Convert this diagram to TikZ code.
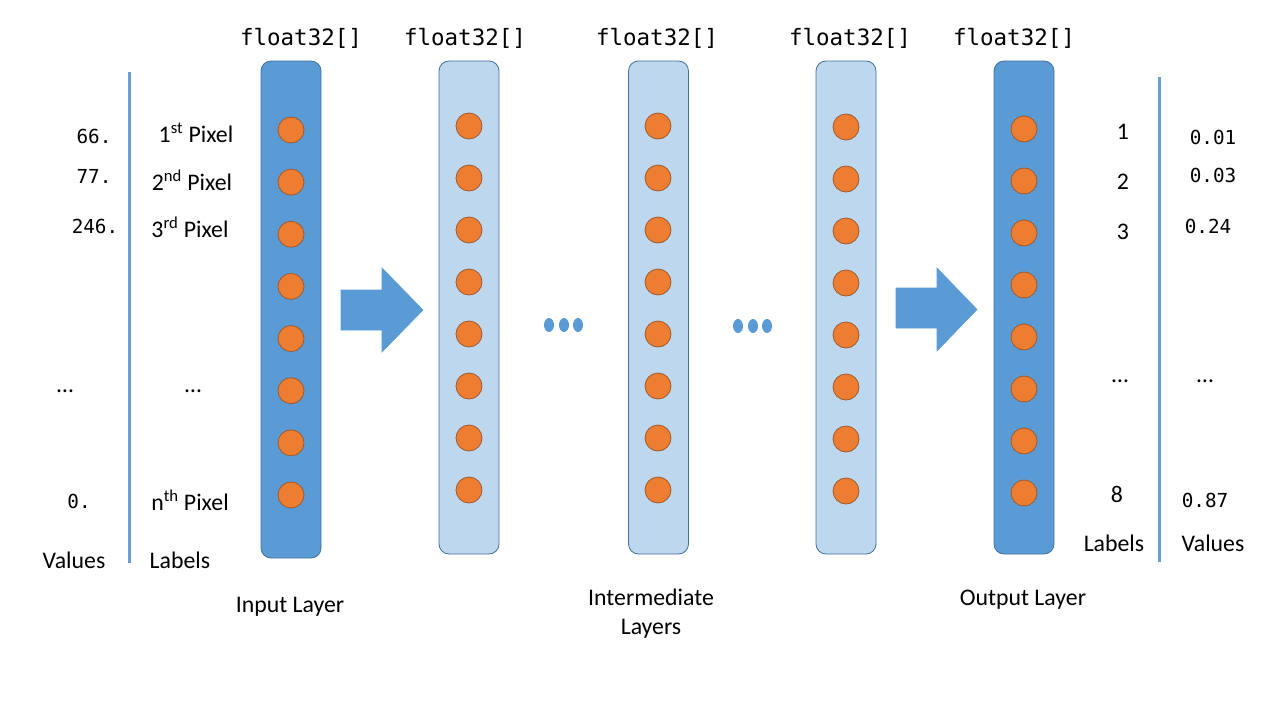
\documentclass[tikz,border=0pt]{standalone}
\usepackage{fontspec}
\setmainfont{Carlito}
\newfontfamily\monof{DejaVu Sans Mono}
\definecolor{darkb}{HTML}{5B9BD5}
\definecolor{lightb}{HTML}{BDD7EE}
\definecolor{bordc}{HTML}{41719C}
\definecolor{orng}{HTML}{ED7D31}
\definecolor{orbord}{HTML}{9E5A2E}
\definecolor{vlinec}{HTML}{6A9FD6}
\begin{document}
\begin{tikzpicture}[x=1pt,y=-1pt,
  layerdark/.style={draw=bordc, fill=darkb, rounded corners=10pt, minimum width=60pt, line width=0.8pt, inner sep=0pt},
  layerlight/.style={draw=bordc, fill=lightb, rounded corners=10pt, minimum width=60pt, line width=0.8pt, inner sep=0pt},
  neuron/.style={circle, draw=orbord, fill=orng, minimum size=26pt, inner sep=0pt, line width=0.8pt},
  txt/.style={font=\fontsize{23.8}{28}\selectfont, inner sep=0pt, text=black},
  mono/.style={font=\monof\fontsize{22.5}{25}\selectfont, inner sep=0pt},
  monos/.style={font=\monof\fontsize{19.3}{23}\selectfont, inner sep=0pt},
  blockarrow/.style={fill=darkb, draw=darkb, line width=0.6pt},
  dotell/.style={fill=darkb},
  vline/.style={draw=vlinec, line width=3pt}]
\useasboundingbox (0,0) rectangle (1280,720);
\fill[white] (0,0) rectangle (1280,720);

% layers
\node[layerdark, minimum height=497pt] (L1) at (291,309.5) {};
\node[layerlight, minimum height=493pt] (L2) at (469,307.5) {};
\node[layerlight, minimum height=493pt] (L3) at (658.5,307.5) {};
\node[layerlight, minimum height=493pt] (L4) at (846,307.5) {};
\node[layerdark, minimum height=493pt] (L5) at (1024,307.5) {};

% neurons
\foreach \i in {0,...,7} {
  \node[neuron] (a\i) at (291,130+52.14*\i) {};
  \node[neuron] (b\i) at (469,126+52*\i) {};
  \node[neuron] (c\i) at (658,126+52*\i) {};
  \node[neuron] (d\i) at (846,127+52*\i) {};
  \node[neuron] (e\i) at (1024,129+52*\i) {};
}

% block arrows
\draw[blockarrow] (341,290) -- (382,290) -- (382,268) -- (423,310) -- (382,352) -- (382,330) -- (341,330) -- cycle;
\draw[blockarrow] (896,288) -- (937,288) -- (937,268) -- (977,309.5) -- (937,351) -- (937,328) -- (896,328) -- cycle;

% ellipsis dots
\foreach \x in {549,564,578} \fill[dotell] (\x,325) ellipse (5 and 7);
\foreach \x in {738,753,767} \fill[dotell] (\x,326) ellipse (5 and 7);

% vertical lines
\draw[vline] (129,72) -- (129,563);
\draw[vline] (1159,77) -- (1159,562);

% top labels
\node[mono] (t1) at (301,38) {float32[]};
\node[mono] (t2) at (465,38) {float32[]};
\node[mono] (t3) at (657,38) {float32[]};
\node[mono] (t4) at (850,38) {float32[]};
\node[mono] (t5) at (1014,38) {float32[]};

% left values
\node[monos] (v1) at (94,136) {66.};
\node[monos] (v2) at (94,176) {77.};
\node[monos] (v3) at (95,226) {246.};
\node[txt] (v4) at (65,391) {…};
\node[monos] (v5) at (79,501) {0.};
\node[txt] (v6) at (74,560) {Values};

% left labels
\node[txt] (p1) at (196,133) {1\textsuperscript{st} Pixel};
\node[txt] (p2) at (192,180) {2\textsuperscript{nd} Pixel};
\node[txt] (p3) at (190,227) {3\textsuperscript{rd} Pixel};
\node[txt] (p4) at (193,391) {…};
\node[txt] (p5) at (190,500) {n\textsuperscript{th} Pixel};
\node[txt] (p6) at (180,560) {Labels};

% bottom captions
\node[txt] (c_in) at (290,607) {Input Layer};
\node[txt, align=center] (c_mid) at (651,614) {Intermediate\\[1pt]Layers};
\node[txt] (c_out) at (1023,600) {Output Layer};

% right labels
\node[txt] (r1) at (1123,132) {1};
\node[txt] (r2) at (1123,182) {2};
\node[txt] (r3) at (1123,232) {3};
\node[txt] (r4) at (1120,381) {…};
\node[txt] (r5) at (1117,494) {8};
\node[txt] (r6) at (1114,543) {Labels};

% right values
\node[monos] (w1) at (1213,137) {0.01};
\node[monos] (w2) at (1213,175) {0.03};
\node[monos] (w3) at (1208,226) {0.24};
\node[txt] (w4) at (1205,381) {…};
\node[monos] (w5) at (1205,500) {0.87};
\node[txt] (w6) at (1213,543) {Values};
\end{tikzpicture}
\end{document}
